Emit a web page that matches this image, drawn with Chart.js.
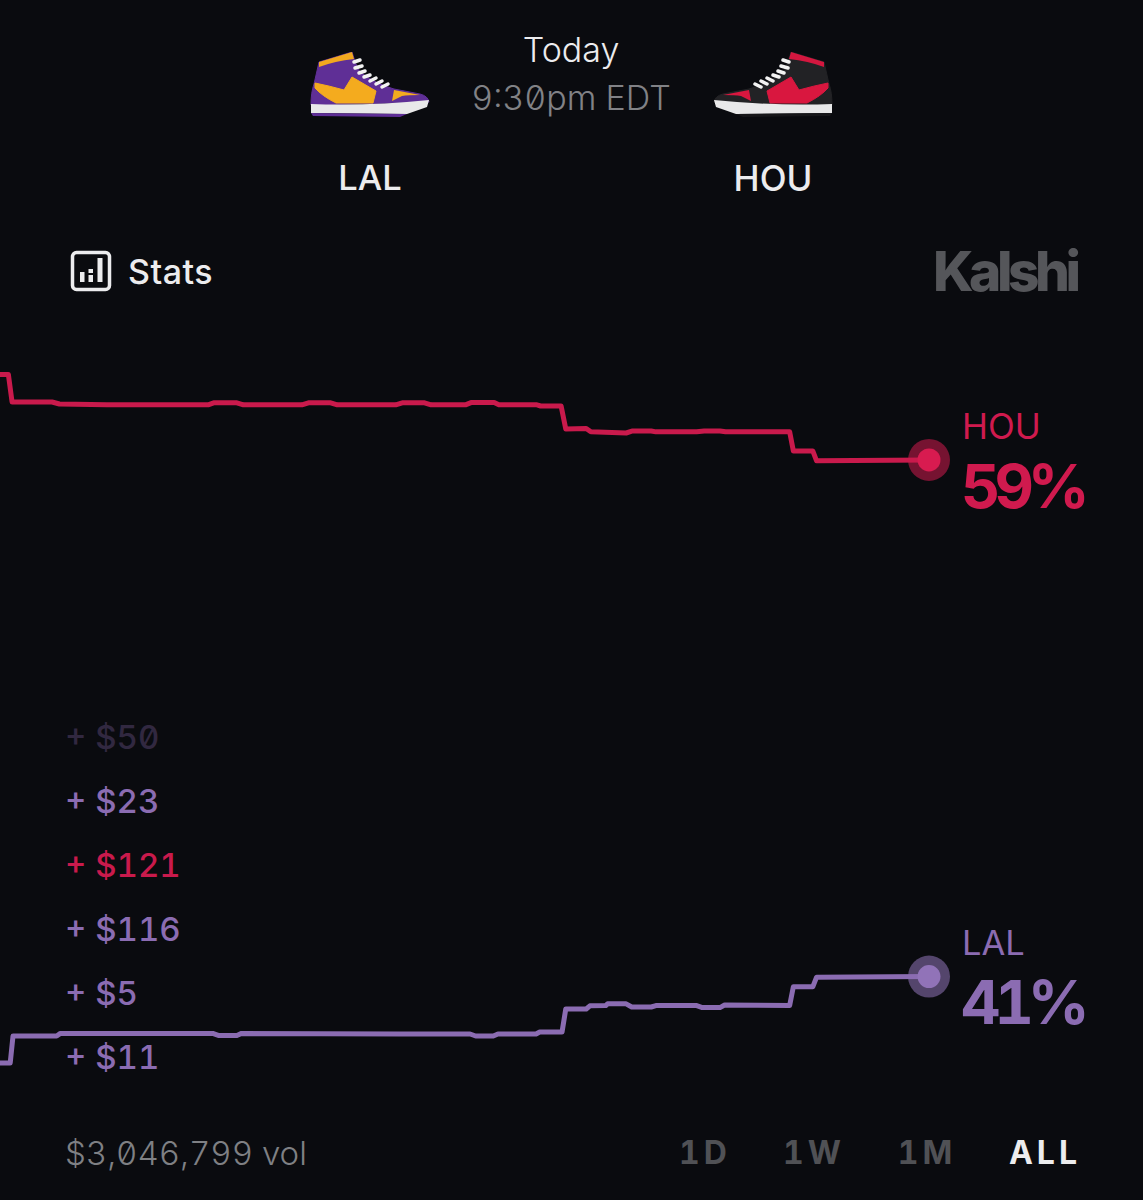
<!DOCTYPE html>
<html lang="en">

<head>
    <meta charset="UTF-8">
    <meta name="viewport" content="width=device-width, initial-scale=1.0">
    <title>LAL vs HOU</title>
    <script src="https://cdn.jsdelivr.net/npm/chart.js"></script>
    <style>
        body {
            margin: 0;
            width: 1143px;
            height: 1200px;
            overflow: hidden;
            background-color: #0a0b0f;
            font-family: Inter, "Noto Sans", sans-serif;
            font-feature-settings: "zero" 1, "tnum" 1;
            color: #ececee;
        }

        .text {
            position: absolute;
            line-height: 1;
            white-space: nowrap;
            transform: translateY(-50%);
        }

        .center {
            transform: translate(-50%, -50%);
        }

        .shoe {
            position: absolute;
            top: 52px;
            width: 120px;
            height: 65px;
        }

        #statsIcon {
            position: absolute;
            left: 69px;
            top: 249px;
            width: 44px;
            height: 44px;
        }

        .chart-container {
            position: absolute;
            left: 0;
            top: 340px;
            width: 960px;
            height: 760px;
        }
    </style>
</head>

<body>
    <div class="text center" style="left:571px;top:50px;font-size:34px;font-weight:300;">Today</div>
    <div class="text center" style="left:571px;top:98px;font-size:34px;font-weight:300;color:#818286;">9:30pm EDT</div>
    <div class="text center" style="left:370px;top:178px;font-size:34.5px;font-weight:500;">LAL</div>
    <div class="text center" style="left:773px;top:178px;font-size:35px;font-weight:500;">HOU</div>

    <div class="shoe" id="shoeLal"></div>
    <div class="shoe" id="shoeHou"></div>

    <svg id="statsIcon" viewBox="0 0 44 44">
        <rect x="3.5" y="3.5" width="37" height="37" rx="4" fill="none" stroke="#ececee" stroke-width="3.5" />
        <rect x="11" y="23" width="4.5" height="10" fill="#ececee" />
        <rect x="19.5" y="20" width="4.5" height="4" fill="#ececee" />
        <rect x="19.5" y="26" width="4.5" height="7" fill="#ececee" />
        <rect x="28.5" y="9" width="5" height="24" fill="#ececee" />
    </svg>
    <div class="text" style="left:128px;top:272px;font-size:34px;font-weight:500;letter-spacing:.5px;">Stats</div>
    <div class="text" style="left:933px;top:271px;font-size:55px;font-weight:800;letter-spacing:-4.5px;color:#55565a;">Kalshi</div>

    <div id="trades"></div>

    <div class="chart-container">
        <canvas id="priceChart"></canvas>
    </div>

    <div class="text" style="left:962px;top:426px;font-size:35px;color:#d01a4e;">HOU</div>
    <div class="text" style="left:961px;top:486px;font-size:61px;font-weight:700;letter-spacing:-6px;color:#d01a4e;">59%</div>
    <div class="text" style="left:962px;top:943px;font-size:34.5px;color:#8b6cb2;">LAL</div>
    <div class="text" style="left:961px;top:1002px;font-size:61px;font-weight:700;letter-spacing:-6px;color:#8b6cb2;">41%</div>

    <div class="text" style="left:65px;top:1153px;font-size:33px;font-weight:300;color:#7f8084;">$3,046,799 vol</div>
    <div id="ranges"></div>

    <script>
        // x is % of the market's history, y is % chance
        const houTimes = [0, 0.9, 1.3, 5.6, 6.4, 11.5, 22.4, 23.0, 25.5, 26.2, 32.5, 33.2, 35.6, 36.3, 42.6, 43.3, 45.7, 46.4, 50.1, 50.7, 53.2, 53.7, 57.8, 58.2, 60.4, 60.9, 63.1, 63.6, 67.4, 68.1, 70.1, 70.6, 75.0, 75.8, 77.5, 78.1, 85.0, 85.4, 87.5, 87.9, 100];
        const houValues = [61.98, 61.98, 61.02, 61.02, 60.95, 60.92, 60.92, 60.99, 60.99, 60.92, 60.92, 60.99, 60.99, 60.92, 60.92, 60.99, 60.99, 60.92, 60.92, 61.0, 61.0, 60.92, 60.92, 60.88, 60.88, 60.08, 60.1, 59.98, 59.94, 60.01, 60.01, 59.98, 59.98, 60.01, 60.01, 59.98, 59.98, 59.31, 59.31, 58.97, 59];

        const lalTimes = [0, 1.1, 1.4, 6.1, 6.5, 22.9, 23.5, 25.5, 26.0, 43.1, 50.6, 51.2, 53.1, 53.6, 57.7, 58.1, 60.5, 60.9, 63.1, 63.5, 65.2, 65.4, 67.4, 68.0, 70.1, 70.6, 75.0, 75.6, 77.5, 78.0, 85.0, 85.4, 87.5, 87.9, 100];
        const lalValues = [37.99, 37.99, 38.93, 38.93, 39.02, 39.02, 38.95, 38.95, 39.02, 39.0, 39.0, 38.93, 38.93, 39.0, 39.0, 39.07, 39.07, 39.87, 39.87, 39.98, 39.99, 40.05, 40.05, 39.94, 39.94, 39.99, 39.99, 39.92, 39.92, 40.01, 39.99, 40.65, 40.65, 40.98, 41];

        const tradeLabels = ['+ $50', '+ $23', '+ $121', '+ $116', '+ $5', '+ $11'];
        const tradeTeams = ['LAL', 'LAL', 'HOU', 'LAL', 'LAL', 'LAL'];
        const rangeLabels = ['1D', '1W', '1M', 'ALL'];

        const colors = { HOU: '#c91a4c', LAL: '#8b6cb2' };

        // Trade feed on the left, oldest one fading out at the top
        const tradesEl = document.getElementById('trades');
        tradeLabels.forEach((label, i) => {
            const row = document.createElement('div');
            row.className = 'text';
            row.textContent = label;
            row.style.cssText = `left:65px;top:${737 + i * 64}px;font-size:33px;font-weight:500;`
                + `color:${colors[tradeTeams[i]]};opacity:${i === 0 ? 0.3 : 1};`;
            tradesEl.appendChild(row);
        });

        // Range buttons
        const rangeCenters = [705, 814, 927, 1045];
        const rangesEl = document.getElementById('ranges');
        rangeLabels.forEach((label, i) => {
            const btn = document.createElement('div');
            btn.className = 'text center';
            btn.textContent = label;
            btn.style.cssText = `left:${rangeCenters[i]}px;top:1153px;font-size:32px;font-weight:700;letter-spacing:4px;`
                + `color:${label === 'ALL' ? '#ececee' : '#505155'};`;
            rangesEl.appendChild(btn);
        });

        // Sneakers, the HOU one is the same outline flipped
        function shoeSvg(c) {
            return `<svg viewBox="0 0 120 65" width="120" height="65">
                <path d="M9 10 L42 0 Q45 12 50 20 Q66 32 84 37 L110 42 Q118 44 119 50 L1 53 Q1 40 4 32 Z" fill="${c.upper}" stroke="${c.upper}" stroke-linejoin="round" />
                <path d="M9 10 L42 0 L44 7 Q25 9 9 15 Z" fill="${c.collar}" />
                <path d="M5 31 Q20 34 34 38 L42 25 L66 39 L63 51 L26 51 Q12 44 5 36 Z" fill="${c.panel}" stroke="${c.panel}" stroke-linejoin="round" />
                <path d="M84 38 L110 43 Q98 43 92 44 L82 49 Z" fill="${c.panel}" />
                <path d="M1 52 Q60 54 119 48 L117 55 L97 62 L1 61 Z" fill="#e9e9ea" />
                <path d="M1 61 L97 62 L90 65 L3 64 Z" fill="${c.rim}" />
                <path d="M44 10 L50 8 M45 16 L52 14 M49 21 L55 19 M54 25 L60 23 M60 29 L66 26 M66 32 L72 29 M72 35 L78 32"
                    stroke="#f2f2f2" stroke-width="3.5" stroke-linecap="round" fill="none" />
            </svg>`;
        }

        const shoeLal = document.getElementById('shoeLal');
        shoeLal.style.left = '310px';
        shoeLal.innerHTML = shoeSvg({ upper: '#5f2f96', collar: '#f2a91f', panel: '#f4ab1e', rim: '#5f2f96' });

        const shoeHou = document.getElementById('shoeHou');
        shoeHou.style.left = '713px';
        shoeHou.style.transform = 'scaleX(-1)';
        shoeHou.innerHTML = shoeSvg({ upper: '#222225', collar: '#d3173f', panel: '#d9173f', rim: '#17171a' });

        function toPoints(times, values) {
            return times.map((t, i) => ({ x: t, y: values[i] }));
        }

        function lastPoint(times, values) {
            return [{ x: times[times.length - 1], y: values[values.length - 1] }];
        }

        function lineDataset(label, times, values, color) {
            return {
                label: label,
                data: toPoints(times, values),
                borderColor: color,
                borderWidth: 5,
                pointRadius: 0,
                tension: 0,
                borderJoinStyle: 'round',
                clip: false
            };
        }

        function dotDataset(label, times, values, color, radius) {
            return {
                label: label,
                data: lastPoint(times, values),
                showLine: false,
                pointRadius: radius,
                pointBackgroundColor: color,
                pointBorderWidth: 0,
                clip: false
            };
        }

        // First dataset is painted last, so the halos go at the end
        new Chart(document.getElementById('priceChart'), {
            type: 'line',
            data: {
                datasets: [
                    dotDataset('HOU now', houTimes, houValues, '#d81b50', 11.5),
                    dotDataset('LAL now', lalTimes, lalValues, '#9173b8', 11.5),
                    lineDataset('HOU', houTimes, houValues, colors.HOU),
                    lineDataset('LAL', lalTimes, lalValues, colors.LAL),
                    dotDataset('HOU halo', houTimes, houValues, '#761331', 21),
                    dotDataset('LAL halo', lalTimes, lalValues, '#54456c', 21)
                ]
            },
            options: {
                responsive: true,
                maintainAspectRatio: false,
                animation: false,
                layout: { autoPadding: false, padding: { right: 31 } },
                scales: {
                    x: { type: 'linear', min: 0, max: 100, display: false },
                    y: { min: 36.7, max: 63.18, display: false }
                },
                plugins: {
                    legend: { display: false },
                    tooltip: { enabled: false }
                }
            }
        });
    </script>

</body>

</html>
